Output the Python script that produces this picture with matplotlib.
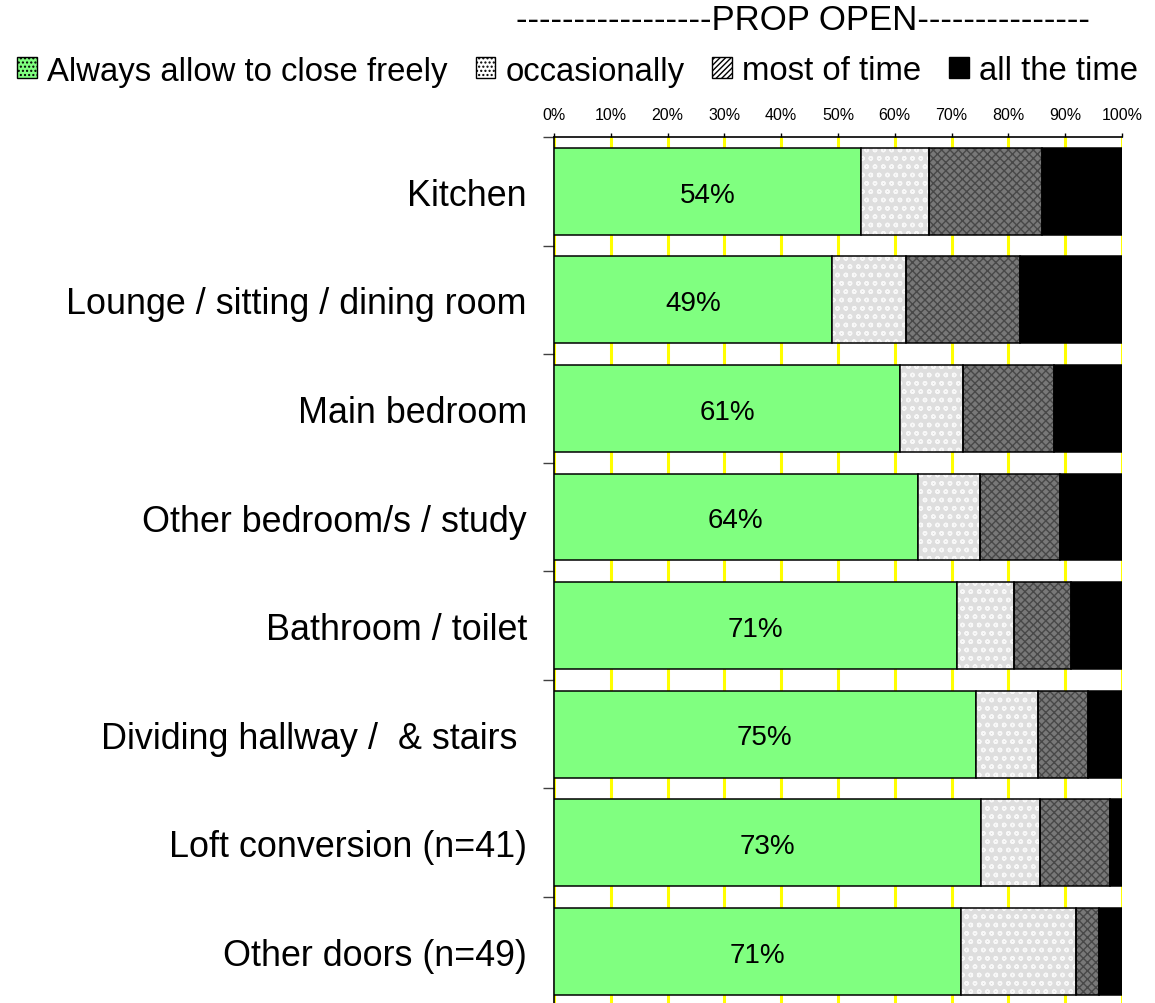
import numpy as np
import matplotlib
matplotlib.use("Agg")
import matplotlib.pyplot as plt
from matplotlib.patches import Patch

plt.rcParams['font.family'] = ['Liberation Sans', 'DejaVu Sans']
plt.rcParams['hatch.linewidth'] = 1.0

# Door rooms and how often the door is propped open (survey responses, %)
rooms = [
    "Kitchen",
    "Lounge / sitting / dining room",
    "Main bedroom",
    "Other bedroom/s / study",
    "Bathroom / toilet",
    "Dividing hallway /  & stairs ",
    "Loft conversion (n=41)",
    "Other doors (n=49)",
]
always_close = [54, 49, 61, 64, 71, 75, 73, 71]
occasionally = [12, 13, 11, 11, 10, 11, 10, 20]
most_of_time = [20, 20, 16, 14, 10, 9, 12, 4]
all_the_time = [14, 18, 12, 11, 9, 6, 2, 4]

series_names = ["Always allow to close freely", "occasionally",
                "most of time", "all the time"]
x_ticks = [0, 10, 20, 30, 40, 50, 60, 70, 80, 90, 100]
x_tick_labels = [f"{v}%" for v in x_ticks]

W, H = 1155, 1004
fig = plt.figure(figsize=(W / 100, H / 100), dpi=100)
ax_left, ax_right = 554 / W, 1122 / W
ax_top = 1 - 138 / H
ax_bottom = 1 - 1006.6 / H
ax = fig.add_axes([ax_left, ax_bottom, ax_right - ax_left, ax_top - ax_bottom])

raw = np.array([always_close, occasionally, most_of_time, all_the_time], dtype=float)
pct = raw / raw.sum(axis=0) * 100  # 100% stacked
y = np.arange(len(rooms))
bar_h = 0.8

styles = [
    dict(color="#80ff80", hatch=None, hcolor=None),
    dict(color="#dedede", hatch="oo", hcolor="#f8f8f8"),
    dict(color="#787878", hatch="xxxx", hcolor="#484848"),
    dict(color="#000000", hatch=None, hcolor=None),
]

left = np.zeros(len(rooms))
for k in range(4):
    st = styles[k]
    if st["hatch"]:
        ax.barh(y, pct[k], left=left, height=bar_h, color=st["color"],
                hatch=st["hatch"], edgecolor=st["hcolor"], linewidth=0, zorder=3)
        ax.barh(y, pct[k], left=left, height=bar_h, fill=False,
                edgecolor="black", linewidth=1.1, zorder=4)
    else:
        ax.barh(y, pct[k], left=left, height=bar_h, color=st["color"],
                edgecolor="black", linewidth=1.1, zorder=3)
    left += pct[k]

# value labels in the "always close" segment
for i in range(len(rooms)):
    ax.text(pct[0, i] / 2, y[i] + 0.03, f"{always_close[i]}%", ha="center",
            va="center", fontsize=20, zorder=5)

ax.set_xlim(0, 100)
ax.set_ylim(len(rooms) - 0.5, -0.5)

ax.xaxis.tick_top()
ax.set_xticks(x_ticks)
ax.set_xticklabels(x_tick_labels, fontsize=11.5)
ax.tick_params(axis="x", direction="out", length=3, width=1, pad=8)
ax.grid(axis="x", color="#ffff00", linewidth=2.2, zorder=0)
ax.set_axisbelow(True)

ax.set_yticks(y)
ax.set_yticklabels(rooms, fontsize=25.8)
ax.tick_params(axis="y", which="major", length=0, pad=19.5)
ax.set_yticks(np.arange(len(rooms) + 1) - 0.5, minor=True)
ax.tick_params(axis="y", which="minor", length=8, width=1, color="#404040")

for s in ("right", "bottom"):
    ax.spines[s].set_visible(False)
ax.spines["left"].set_linewidth(1.2)
ax.spines["top"].set_linewidth(1.2)

# legend
handles = [
    Patch(facecolor="#80ff80", edgecolor="black", hatch="....", linewidth=1),
    Patch(facecolor="white", edgecolor="black", hatch="....", linewidth=1),
    Patch(facecolor="white", edgecolor="black", hatch="//////", linewidth=1),
    Patch(facecolor="black", edgecolor="black", linewidth=1),
]
fig.legend(handles, series_names, loc="center", bbox_to_anchor=(0.5, 1 - 72 / H),
           ncol=4, frameon=False, fontsize=23.7, handlelength=0.6,
           handleheight=0.6, handletextpad=0.3, columnspacing=0.85,
           borderaxespad=0, borderpad=0)

fig.text(803 / W, 1 - 21 / H, "-----------------PROP OPEN---------------",
         ha="center", va="center", fontsize=25)

fig.savefig("out.png", dpi=100)
